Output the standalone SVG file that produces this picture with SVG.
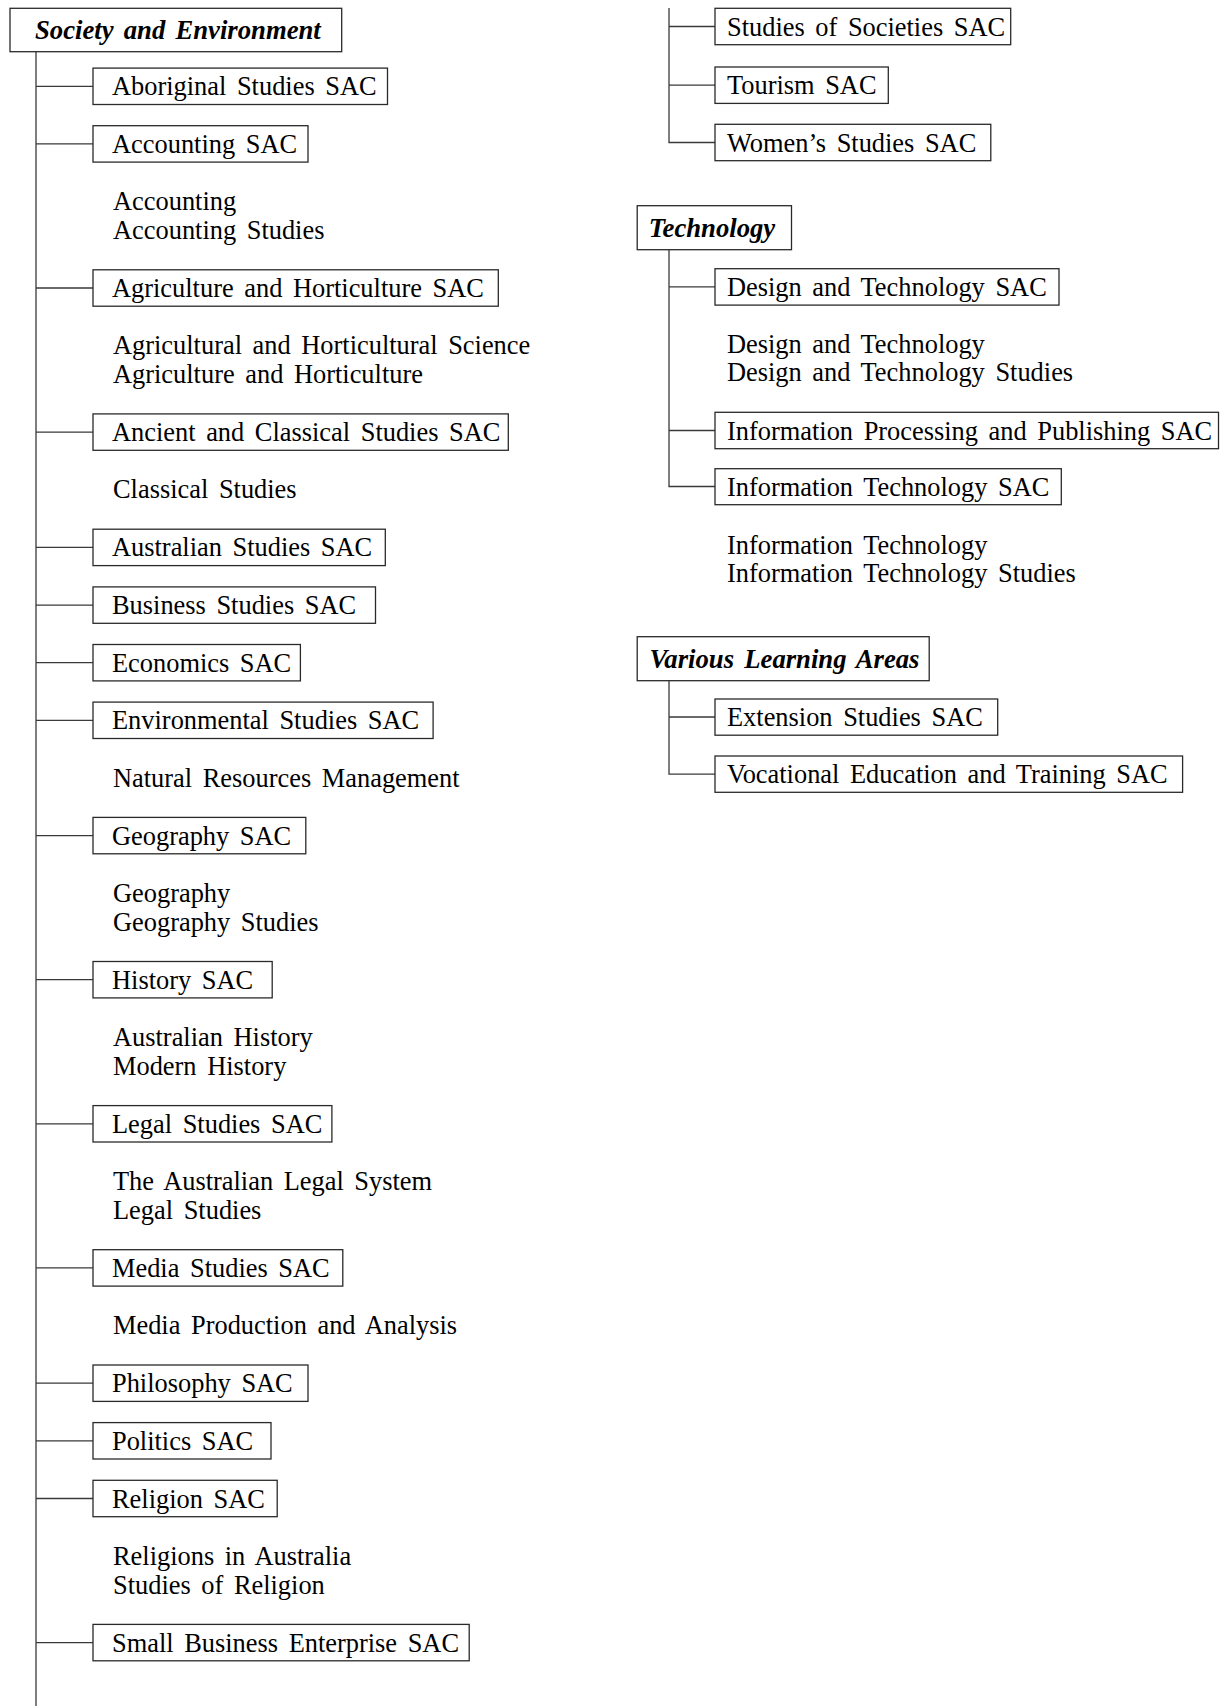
<svg xmlns="http://www.w3.org/2000/svg" width="1220" height="1706" viewBox="0 0 1220 1706">
<style>
  .bx { fill: #fff; stroke: #2a2a2a; stroke-width: 1.3; }
  .ln { fill: none; stroke: #3a3a3a; stroke-width: 1.3; }
  text { font-family: "Liberation Serif", "Times New Roman", serif; font-size: 26.4px; fill: #000; word-spacing: 4px; }
  .hd { font-weight: bold; font-style: italic; font-size: 26.7px; word-spacing: 3.5px; }
</style>
<rect width="1220" height="1706" fill="#fff"/>
<g id="connectors">
  <path class="ln" d="M36,51.7 V1706 M36,86.3 H93 M36,143.9 H93 M36,288 H93 M36,432.1 H93 M36,547.4 H93 M36,605.1 H93 M36,662.7 H93 M36,720.3 H93 M36,835.6 H93 M36,979.7 H93 M36,1123.8 H93 M36,1267.9 H93 M36,1383.2 H93 M36,1440.8 H93 M36,1498.5 H93 M36,1642.6 H93"/>
  <path class="ln" d="M669,8 V142.5 H715 M669,26.5 H715 M669,85.2 H715"/>
  <path class="ln" d="M669,249.7 V486.5 H715 M669,286.9 H715 M669,430.5 H715"/>
  <path class="ln" d="M669,680.7 V774.2 H715 M669,717 H715"/>
</g>
<g id="society-and-environment"><rect class="bx" x="10" y="8.3" width="331.7" height="43.4"/><text class="hd" x="35" y="38.5">Society and Environment</text></g>
<g id="aboriginal-studies"><rect class="bx" x="93" y="68.1" width="294.5" height="36.4"/><text x="112" y="95.3">Aboriginal Studies SAC</text></g>
<g id="accounting"><rect class="bx" x="93" y="125.7" width="215" height="36.4"/><text x="112" y="152.9">Accounting SAC</text>
  <text x="113" y="210.2">Accounting</text><text x="113" y="239">Accounting Studies</text></g>
<g id="agriculture"><rect class="bx" x="93" y="269.8" width="405.3" height="36.4"/><text x="112" y="297">Agriculture and Horticulture SAC</text>
  <text x="113" y="354.3">Agricultural and Horticultural Science</text><text x="113" y="383.1">Agriculture and Horticulture</text></g>
<g id="ancient-classical"><rect class="bx" x="93" y="413.9" width="415.3" height="36.4"/><text x="112" y="441.1">Ancient and Classical Studies SAC</text>
  <text x="113" y="498.4">Classical Studies</text></g>
<g id="australian-studies"><rect class="bx" x="93" y="529.2" width="292.3" height="36.4"/><text x="112" y="556.4">Australian Studies SAC</text></g>
<g id="business-studies"><rect class="bx" x="93" y="586.9" width="282.5" height="36.4"/><text x="112" y="614.1">Business Studies SAC</text></g>
<g id="economics"><rect class="bx" x="93" y="644.5" width="207.4" height="36.4"/><text x="112" y="671.7">Economics SAC</text></g>
<g id="environmental"><rect class="bx" x="93" y="702.1" width="340.1" height="36.4"/><text x="112" y="729.3">Environmental Studies SAC</text>
  <text x="113" y="786.6">Natural Resources Management</text></g>
<g id="geography"><rect class="bx" x="93" y="817.4" width="212.8" height="36.4"/><text x="112" y="844.6">Geography SAC</text>
  <text x="113" y="901.9">Geography</text><text x="113" y="930.7">Geography Studies</text></g>
<g id="history"><rect class="bx" x="93" y="961.5" width="179.2" height="36.4"/><text x="112" y="988.7">History SAC</text>
  <text x="113" y="1046">Australian History</text><text x="113" y="1074.8">Modern History</text></g>
<g id="legal-studies"><rect class="bx" x="93" y="1105.6" width="238.9" height="36.4"/><text x="112" y="1132.8">Legal Studies SAC</text>
  <text x="113" y="1190.1">The Australian Legal System</text><text x="113" y="1218.9">Legal Studies</text></g>
<g id="media-studies"><rect class="bx" x="93" y="1249.7" width="249.8" height="36.4"/><text x="112" y="1276.9">Media Studies SAC</text>
  <text x="113" y="1334.2">Media Production and Analysis</text></g>
<g id="philosophy"><rect class="bx" x="93" y="1365" width="215" height="36.4"/><text x="112" y="1392.2">Philosophy SAC</text></g>
<g id="politics"><rect class="bx" x="93" y="1422.6" width="178" height="36.4"/><text x="112" y="1449.8">Politics SAC</text></g>
<g id="religion"><rect class="bx" x="93" y="1480.3" width="184.2" height="36.4"/><text x="112" y="1507.5">Religion SAC</text>
  <text x="113" y="1564.7">Religions in Australia</text><text x="113" y="1593.5">Studies of Religion</text></g>
<g id="small-business"><rect class="bx" x="93" y="1624.4" width="376.2" height="36.4"/><text x="112" y="1651.6">Small Business Enterprise SAC</text></g>
<g id="studies-of-societies"><rect class="bx" x="715" y="8.3" width="295.7" height="36.4"/><text x="727" y="35.5">Studies of Societies SAC</text></g>
<g id="tourism"><rect class="bx" x="715" y="67" width="173.3" height="36.4"/><text x="727" y="94.2">Tourism SAC</text></g>
<g id="womens-studies"><rect class="bx" x="715" y="124.3" width="275.8" height="36.4"/><text x="727" y="151.5">Women’s Studies SAC</text></g>
<g id="technology"><rect class="bx" x="637.2" y="205.7" width="154.3" height="44"/><text class="hd" x="648.7" y="236.5">Technology</text></g>
<g id="design-technology"><rect class="bx" x="715" y="268.7" width="344" height="36.4"/><text x="727" y="295.9">Design and Technology SAC</text>
  <text x="727" y="352.7">Design and Technology</text><text x="727" y="381">Design and Technology Studies</text></g>
<g id="information-processing"><rect class="bx" x="715" y="412.3" width="503.5" height="36.4"/><text x="727" y="439.5">Information Processing and Publishing SAC</text></g>
<g id="information-technology"><rect class="bx" x="715" y="468.7" width="346.3" height="36"/><text x="727" y="495.5">Information Technology SAC</text>
  <text x="727" y="554.3">Information Technology</text><text x="727" y="582">Information Technology Studies</text></g>
<g id="various-learning-areas"><rect class="bx" x="637.2" y="636.7" width="292" height="44"/><text class="hd" x="649.5" y="667.5">Various Learning Areas</text></g>
<g id="extension-studies"><rect class="bx" x="715" y="699" width="282.7" height="36.2"/><text x="727" y="726">Extension Studies SAC</text></g>
<g id="vocational-education"><rect class="bx" x="715" y="756" width="467.6" height="36.3"/><text x="727" y="783">Vocational Education and Training SAC</text></g>
</svg>
